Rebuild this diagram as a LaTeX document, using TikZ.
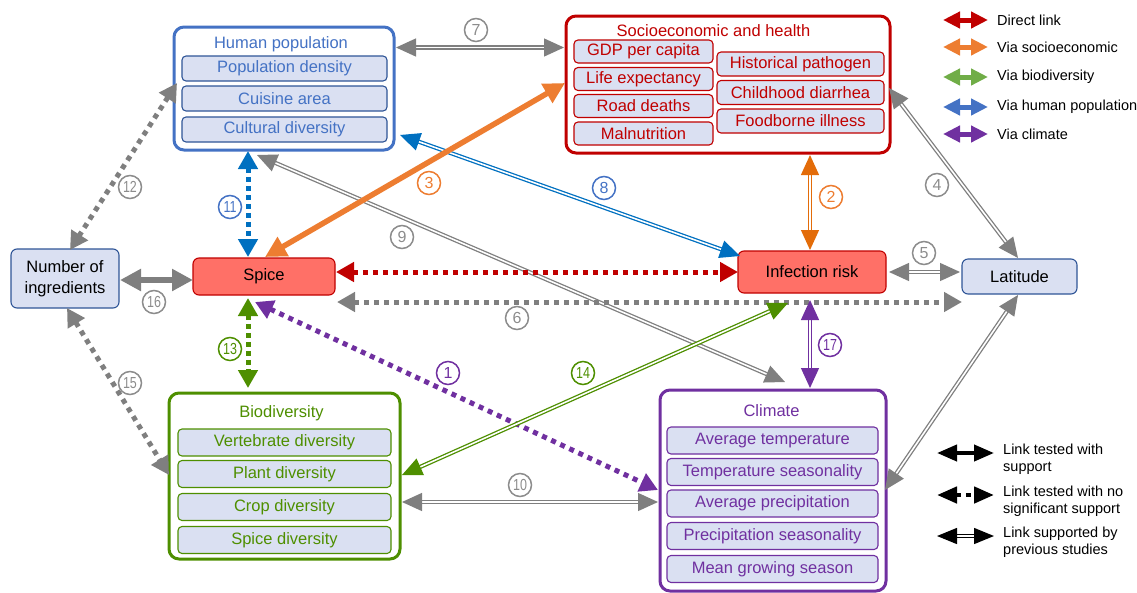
\documentclass[tikz,border=0pt]{standalone}
\usepackage{fontspec}
\usepackage{graphicx}
\setmainfont{Liberation Sans}
\usetikzlibrary{arrows.meta,calc}
\definecolor{hblue}{HTML}{4472C4}
\definecolor{hborder}{HTML}{2F5597}
\definecolor{cblue}{HTML}{0070C0}
\definecolor{sred}{HTML}{C00000}
\definecolor{bgreen}{HTML}{4E8F00}
\definecolor{cpurple}{HTML}{7030A0}
\definecolor{corange}{HTML}{ED7D31}
\definecolor{dorange}{HTML}{E36C09}
\definecolor{lgreen}{HTML}{70AD47}
\definecolor{agray}{HTML}{7F7F7F}
\definecolor{lgray}{HTML}{8C8C8C}
\definecolor{subfill}{HTML}{DAE0F2}
\definecolor{keyfill}{HTML}{FF7067}
\newcommand{\tn}[1]{\scalebox{0.78}[1]{#1}}
\begin{document}
\begin{tikzpicture}[x=1pt,y=-1pt,
  grp/.style={draw, line width=3pt, rounded corners=10pt, fill=white, inner sep=0pt, outer sep=0pt},
  sub/.style={draw, line width=1.1pt, rounded corners=4pt, fill=subfill, inner sep=0pt, outer sep=0pt, font=\fontsize{16.5}{19}\selectfont},
  ttl/.style={inner sep=0pt, font=\fontsize{16.5}{19}\selectfont},
  keybox/.style={draw=sred, line width=1.1pt, rounded corners=6pt, fill=keyfill, inner sep=0pt, outer sep=0pt, font=\fontsize{16.5}{19}\selectfont},
  varbox/.style={draw=hborder, line width=1.1pt, rounded corners=6pt, fill=subfill, inner sep=0pt, outer sep=0pt, align=center, font=\fontsize{16.5}{21}\selectfont},
  dbl/.style={double=white, line width=1.3pt, double distance=1.6pt,
    arrows={Triangle[length=20pt,width=18pt]-Triangle[length=20pt,width=18pt]}},
  dotl/.style={line width=5pt, dash pattern=on 5pt off 5pt,
    arrows={Triangle[length=18pt,width=19pt]-Triangle[length=18pt,width=19pt]}},
  thk/.style={line width=5.5pt,
    arrows={Triangle[length=21pt,width=21pt]-Triangle[length=21pt,width=21pt]}},
  lbl/.style={circle, draw, line width=1.5pt, minimum size=23pt, inner sep=0pt, font=\fontsize{16}{16}\selectfont},
  legtxt/.style={anchor=west, inner sep=0pt, font=\fontsize{14.5}{17}\selectfont},
  legtxt2/.style={anchor=north west, inner sep=0pt, align=left, font=\fontsize{14.5}{16.5}\selectfont},
  legarr/.style={line width=5pt, arrows={Triangle[length=17pt,width=16pt]-Triangle[length=17pt,width=16pt]}}
]
\useasboundingbox (0,0) rectangle (1137,592);

% ---- Human population
\node[grp, draw=hblue, minimum width=220pt, minimum height=123pt] (hum) at (284,88.5) {};
\node[ttl, text=hblue] (humT) at (281,44) {Human population};
\node[sub, draw=hborder, text=hblue, minimum width=205pt, minimum height=25pt] (hum1) at (284.5,68.5) {Population density};
\node[sub, draw=hborder, text=hblue, minimum width=205pt, minimum height=25pt] (hum2) at (284.5,98.5) {Cuisine area};
\node[sub, draw=hborder, text=hblue, minimum width=205pt, minimum height=25pt] (hum3) at (284.5,129.5) {Cultural diversity};

% ---- Socioeconomic and health
\node[grp, draw=sred, minimum width=324pt, minimum height=137pt] (soc) at (728,84.5) {};
\node[ttl, text=sred] (socT) at (713.5,31) {Socioeconomic and health};
\node[sub, draw=sred, text=sred, minimum width=139pt, minimum height=23pt] (soc1) at (643.5,51.5) {GDP per capita};
\node[sub, draw=sred, text=sred, minimum width=139pt, minimum height=23pt] (soc2) at (643.5,79) {Life expectancy};
\node[sub, draw=sred, text=sred, minimum width=139pt, minimum height=23pt] (soc3) at (643.5,106) {Road deaths};
\node[sub, draw=sred, text=sred, minimum width=139pt, minimum height=23pt] (soc4) at (643.5,133.5) {Malnutrition};
\node[sub, draw=sred, text=sred, minimum width=167pt, minimum height=24pt] (soc5) at (800.5,64) {Historical pathogen};
\node[sub, draw=sred, text=sred, minimum width=167pt, minimum height=24pt] (soc6) at (800.5,92.5) {Childhood diarrhea};
\node[sub, draw=sred, text=sred, minimum width=167pt, minimum height=24pt] (soc7) at (800.5,121) {Foodborne illness};

% ---- Biodiversity
\node[grp, draw=bgreen, minimum width=231pt, minimum height=166pt] (bio) at (284.5,476) {};
\node[ttl, text=bgreen] (bioT) at (281.5,413) {Biodiversity};
\node[sub, draw=bgreen, text=bgreen, minimum width=213pt, minimum height=27pt] (bio1) at (284.5,442.5) {Vertebrate diversity};
\node[sub, draw=bgreen, text=bgreen, minimum width=213pt, minimum height=27pt] (bio2) at (284.5,474) {Plant diversity};
\node[sub, draw=bgreen, text=bgreen, minimum width=213pt, minimum height=27pt] (bio3) at (284.5,507) {Crop diversity};
\node[sub, draw=bgreen, text=bgreen, minimum width=213pt, minimum height=27pt] (bio4) at (284.5,540) {Spice diversity};

% ---- Climate
\node[grp, draw=cpurple, minimum width=226pt, minimum height=201pt] (cli) at (773,490.5) {};
\node[ttl, text=cpurple] (cliT) at (771.5,411) {Climate};
\node[sub, draw=cpurple, text=cpurple, minimum width=211pt, minimum height=27pt] (cli1) at (772.5,440.5) {Average temperature};
\node[sub, draw=cpurple, text=cpurple, minimum width=211pt, minimum height=27pt] (cli2) at (772.5,472) {Temperature seasonality};
\node[sub, draw=cpurple, text=cpurple, minimum width=211pt, minimum height=27pt] (cli3) at (772.5,503.5) {Average precipitation};
\node[sub, draw=cpurple, text=cpurple, minimum width=211pt, minimum height=27pt] (cli4) at (772.5,536) {Precipitation seasonality};
\node[sub, draw=cpurple, text=cpurple, minimum width=211pt, minimum height=27pt] (cli5) at (772.5,569) {Mean growing season};

% ---- Single nodes
\node[keybox, minimum width=142pt, minimum height=37pt] (spice) at (264,276.5) {Spice};
\node[keybox, minimum width=148pt, minimum height=42pt] (inf) at (812,272) {Infection risk};
\node[varbox, minimum width=108pt, minimum height=59pt] (num) at (65,278.5) {Number of\\ingredients};
\node[varbox, minimum width=115pt, minimum height=35pt] (lat) at (1019.5,276.5) {Latitude};

% ---- Connectors
\draw[dbl, draw=agray] ($(hum.east)+(2,-41)$) -- ($(soc.west)+(-2,-37)$);
\draw[dbl, draw=cblue] ($(inf.north west)+(2,5)$) -- ($(hum.south east)+(6,-15)$);
\draw[dbl, draw=agray] ($(hum.south)+(-27,5)$) -- ($(cli.north)+(12,-8)$);
\draw[thk, draw=corange] ($(spice.north)+(1,-1)$) -- ($(soc.west)+(-1,-1.5)$);
\draw[dbl, draw=dorange] ($(soc.south)+(82,2)$) -- ($(inf.north)+(-2,-1)$);
\draw[dbl, draw=agray] ($(soc.east)+(-1,3.5)$) -- ($(lat.north)+(-1.5,-1)$);
\draw[dbl, draw=agray] ($(inf.east)+(3,0)$) -- ($(lat.west)+(-2,-4.5)$);
\draw[dotl, draw=sred] ($(spice.east)+(1,-4.5)$) -- (inf.west);
\draw[dotl, draw=agray] ($(spice.east)+(2,25.5)$) -- ($(lat.west)+(0,25.5)$);
\draw[dotl, draw=cblue, dash pattern=on 5pt off 4pt] ($(hum.south)+(-36,1)$) -- ($(spice.north)+(-16,-1)$);
\draw[dotl, draw=agray] ($(hum.west)+(3,-5.5)$) -- ($(num.north)+(5,1)$);
\draw[thk, draw=agray] ($(num.east)+(1,1.5)$) -- ($(spice.west)+(0,3.5)$);
\draw[dotl, draw=agray] ($(num.south)+(2,0)$) -- ($(bio.west)+(0,-1)$);
\draw[dotl, draw=bgreen, dash pattern=on 5pt off 4pt] ($(spice.south)+(-16,3)$) -- ($(bio.north)+(-36.5,-5)$);
\draw[dotl, draw=cpurple] ($(spice.south)+(-9,7)$) -- ($(cli.west)+(-2,-0.5)$);
\draw[dbl, draw=bgreen] ($(inf.south)+(-24,10)$) -- ($(bio.east)+(2,-1)$);
\draw[dbl, draw=cpurple] ($(inf.south)+(-2,7)$) -- ($(cli.north)+(37,-2)$);
\draw[dbl, draw=agray] ($(bio.east)+(2,26)$) -- ($(cli.west)+(-2,11.5)$);
\draw[dbl, draw=agray] ($(lat.south)+(-1.5,1)$) -- ($(cli.east)+(-1,-0.5)$);

% ---- Labels
\node[lbl, draw=cpurple, text=cpurple] (l1) at (448,373) {1};
\node[lbl, draw=corange, text=corange] (l2) at (831,197) {2};
\node[lbl, draw=corange, text=corange] (l3) at (429,183) {3};
\node[lbl, draw=lgray, text=lgray] (l4) at (937,185) {4};
\node[lbl, draw=lgray, text=lgray] (l5) at (924,253) {5};
\node[lbl, draw=lgray, text=lgray] (l6) at (517,318) {6};
\node[lbl, draw=lgray, text=lgray] (l7) at (476,30) {7};
\node[lbl, draw=hblue, text=hblue] (l8) at (604,188) {8};
\node[lbl, draw=lgray, text=lgray] (l9) at (402,237) {9};
\node[lbl, draw=lgray, text=lgray] (l10) at (520,485) {\tn{10}};
\node[lbl, draw=hblue, text=hblue] (l11) at (230,207) {\tn{11}};
\node[lbl, draw=lgray, text=lgray] (l12) at (130,187) {\tn{12}};
\node[lbl, draw=bgreen, text=bgreen] (l13) at (230,349) {\tn{13}};
\node[lbl, draw=bgreen, text=bgreen] (l14) at (583,373) {\tn{14}};
\node[lbl, draw=lgray, text=lgray] (l15) at (130,383) {\tn{15}};
\node[lbl, draw=lgray, text=lgray] (l16) at (154,302) {\tn{16}};
\node[lbl, draw=cpurple, text=cpurple] (l17) at (830,345) {\tn{17}};

% ---- Legend (colours)
\coordinate (ka1) at (943,20);  \coordinate (kb1) at (988,20);
\coordinate (ka2) at (943,47);  \coordinate (kb2) at (988,47);
\coordinate (ka3) at (943,77);  \coordinate (kb3) at (988,77);
\coordinate (ka4) at (943,107); \coordinate (kb4) at (988,107);
\coordinate (ka5) at (943,134); \coordinate (kb5) at (988,134);
\draw[legarr, draw=sred] (ka1) -- (kb1);
\draw[legarr, draw=corange] (ka2) -- (kb2);
\draw[legarr, draw=lgreen] (ka3) -- (kb3);
\draw[legarr, draw=hblue] (ka4) -- (kb4);
\draw[legarr, draw=cpurple] (ka5) -- (kb5);
\node[legtxt] (kt1) at (997,20) {Direct link};
\node[legtxt] (kt2) at (997,47) {Via socioeconomic};
\node[legtxt] (kt3) at (997,77) {Via biodiversity};
\node[legtxt] (kt4) at (997,107) {Via human population};
\node[legtxt] (kt5) at (997,134) {Via climate};

% ---- Legend (line types)
\coordinate (la1) at (937,453); \coordinate (lb1) at (994,453);
\coordinate (la2) at (937,495); \coordinate (lb2) at (994,495);
\coordinate (la3) at (937,536); \coordinate (lb3) at (994,536);
\draw[line width=4pt, arrows={Triangle[length=20pt,width=16pt]-Triangle[length=20pt,width=16pt]}] (la1) -- (lb1);
\draw[line width=4.5pt, dash pattern=on 5pt off 5pt, arrows={Triangle[length=20pt,width=16pt]-Triangle[length=20pt,width=16pt]}] (la2) -- (lb2);
\draw[double=white, line width=1.4pt, double distance=1.6pt, arrows={Triangle[length=20pt,width=16pt]-Triangle[length=20pt,width=16pt]}] (la3) -- (lb3);
\node[legtxt2] (lt1) at (1003,444) {Link tested with\\support};
\node[legtxt2] (lt2) at (1003,486) {Link tested with no\\significant support};
\node[legtxt2] (lt3) at (1003,527) {Link supported by\\previous studies};
\end{tikzpicture}
\end{document}
